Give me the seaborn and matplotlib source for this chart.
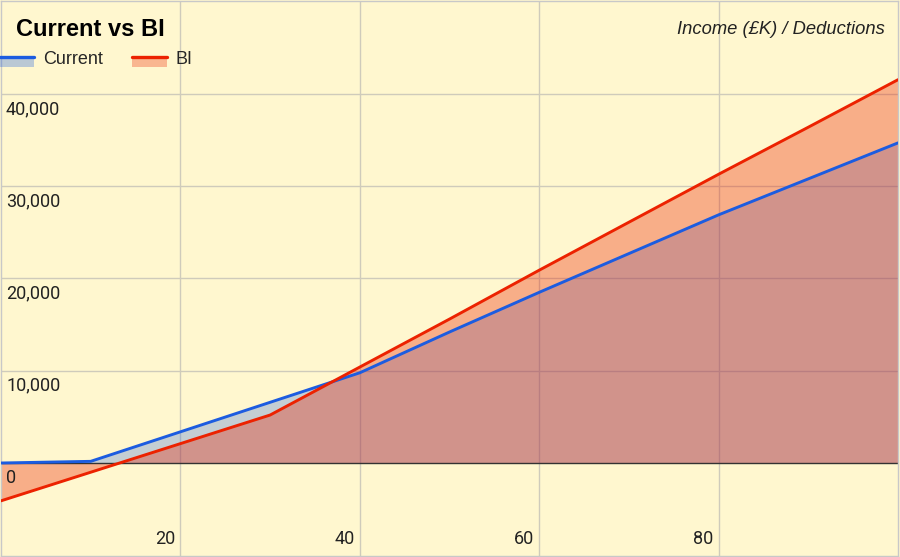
import matplotlib
matplotlib.use("Agg")
import matplotlib.pyplot as plt
import matplotlib.patches as mpatches
import matplotlib.lines as mlines
from matplotlib.legend_handler import HandlerBase
import numpy as np
import pandas as pd
import seaborn as sns

# Income in £K and deductions for each scheme
income = [0, 10, 20, 30, 40, 50, 60, 70, 80, 90, 100]
current = [0, 180, 3380, 6580, 9780, 14200, 18500, 22700, 26900, 30800, 34700]
bi = [-4100, -1000, 2100, 5200, 10400, 15600, 20900, 26100, 31300, 36400, 41550]

x_ticks = [20, 40, 60, 80]
y_ticks = [0, 10000, 20000, 30000, 40000]
y_labels = ['0', '10,000', '20,000', '30,000', '40,000']

title = 'Current vs BI'
axis_title = 'Income (£K) / Deductions'

BG = '#fff7cf'
BLUE = '#1c5ce0'
RED = '#ec2200'

df = pd.DataFrame({'income': income, 'Current': current, 'BI': bi})
long = df.melt(id_vars='income', var_name='scheme', value_name='deduction')

sns.set_theme(style='white')
plt.rcParams['font.family'] = ['Roboto', 'DejaVu Sans']

fig = plt.figure(figsize=(9, 5.57), dpi=100)
fig.patch.set_facecolor(BG)
ax = fig.add_axes([1 / 900, 1 / 557, 897 / 900, 555 / 557])
ax.set_facecolor(BG)

# area fills (blue first, red on top like the original)
ax.fill_between(df['income'], df['Current'], 0, color=BLUE, alpha=0.26, lw=0, zorder=1)
ax.fill_between(df['income'], df['BI'], 0, color=RED, alpha=0.34, lw=0, zorder=1.1)

sns.lineplot(data=long, x='income', y='deduction', hue='scheme',
             palette={'Current': BLUE, 'BI': RED}, linewidth=2.1,
             legend=False, ax=ax, zorder=3)

ax.set_xlim(0, 100)
ax.set_ylim(-10080, 50080)
ax.set_xticks(x_ticks)
ax.set_yticks(y_ticks[1:])
ax.grid(True, color='#cfcbbb', linewidth=1, zorder=0)
ax.axhline(0, color='#333333', linewidth=1, zorder=2)
ax.tick_params(left=False, bottom=False, labelleft=False, labelbottom=False)
ax.set_xlabel('')
ax.set_ylabel('')
for s in ax.spines.values():
    s.set_color('#c8c8c8')
    s.set_linewidth(1)

# tick labels drawn inside the plot area
for v, lab in zip(y_ticks, y_labels):
    ax.annotate(lab, xy=(0, v), xycoords=('axes fraction', 'data'),
                xytext=(5, -6), textcoords='offset pixels',
                ha='left', va='top', fontsize=13, color='#222222')
for v in x_ticks:
    ax.annotate(str(v), xy=(v, 0), xycoords=('data', 'axes fraction'),
                xytext=(-5, 8), textcoords='offset pixels',
                ha='right', va='bottom', fontsize=13, color='#222222')

ax.text(0.0167, 0.948, title, transform=ax.transAxes, ha='left', va='center',
        fontsize=17, fontweight='bold', color='black',
        family=['Liberation Sans', 'DejaVu Sans'])
ax.text(0.985, 0.948, axis_title, transform=ax.transAxes, ha='right', va='center',
        fontsize=13.2, style='italic', family=['Liberation Sans', 'DejaVu Sans'],
        color='#222222')


class AreaHandler(HandlerBase):
    def create_artists(self, legend, orig_handle, xdescent, ydescent,
                       width, height, fontsize, trans):
        mid = height / 2 - ydescent
        rect = mpatches.Rectangle((-xdescent, mid - height * 0.75), width, height * 0.75,
                                  facecolor=orig_handle.get_color(), alpha=0.3,
                                  lw=0, transform=trans)
        line = mlines.Line2D([-xdescent, width - xdescent], [mid, mid],
                             color=orig_handle.get_color(), lw=2.4, transform=trans)
        return [rect, line]


handles = [mlines.Line2D([], [], color=BLUE), mlines.Line2D([], [], color=RED)]
ax.legend(handles, ['Current', 'BI'], handler_map={mlines.Line2D: AreaHandler()},
          loc='center left', bbox_to_anchor=(-0.001, 0.895), ncol=2, frameon=False,
          handlelength=1.9, handletextpad=0.5, columnspacing=1.6,
          borderpad=0, borderaxespad=0,
          prop={'family': ['Liberation Sans', 'DejaVu Sans'], 'size': 13})

fig.savefig('out.png', dpi=100, facecolor=BG)
